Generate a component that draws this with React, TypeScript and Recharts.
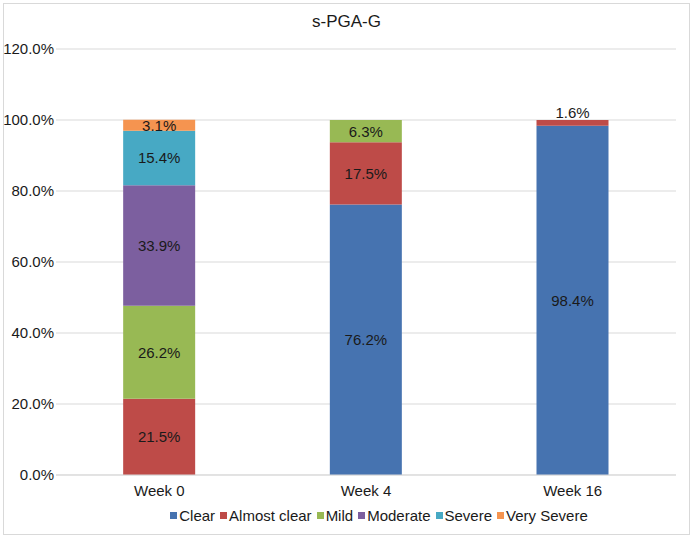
import React from 'react';
import { BarChart, Bar, XAxis, YAxis, CartesianGrid, Legend, LabelList } from 'recharts';

const weeks = ['Week 0', 'Week 4', 'Week 16'];
const clear = [0, 76.2, 98.4];
const almostClear = [21.5, 17.5, 1.6];
const mild = [26.2, 6.3, 0];
const moderate = [33.9, 0, 0];
const severe = [15.4, 0, 0];
const verySevere = [3.1, 0, 0];
const yTicks = [0, 20, 40, 60, 80, 100, 120];

const SERIES = [
  { key: 'clear', name: 'Clear', color: '#4673b0', values: clear },
  { key: 'almostClear', name: 'Almost clear', color: '#be4b48', values: almostClear },
  { key: 'mild', name: 'Mild', color: '#98b954', values: mild },
  { key: 'moderate', name: 'Moderate', color: '#7c5f9f', values: moderate },
  { key: 'severe', name: 'Severe', color: '#47a9c4', values: severe },
  { key: 'verySevere', name: 'Very Severe', color: '#f59450', values: verySevere },
];

const data = weeks.map((week, i) => {
  const row: any = { week };
  SERIES.forEach((s) => {
    row[s.key] = s.values[i];
  });
  return row;
});

const FONT = '"Liberation Sans", Arial, Helvetica, sans-serif';
const TEXT = '#1a1a1a';

const renderLabel = (props: any) => {
  const { x, y, width, height, value } = props;
  if (!value) return null;
  const cx = x + width / 2;
  // tiny segments get their label above the bar
  const cy = value < 2 ? y - 8 : y + height / 2;
  return (
    <text x={cx} y={cy} textAnchor="middle" dominantBaseline="central" fontSize={15} fill={TEXT} fontFamily={FONT}>
      {value.toFixed(1)}%
    </text>
  );
};

const renderLegend = () => (
  <div style={{ display: 'flex', justifyContent: 'center', alignItems: 'center', height: 20, fontFamily: FONT, fontSize: 15, color: TEXT, paddingLeft: 82 }}>
    {SERIES.map((s) => (
      <span key={s.key} style={{ display: 'flex', alignItems: 'center', marginRight: 5 }}>
        <span style={{ display: 'inline-block', width: 7, height: 7, background: s.color, marginRight: 2 }} />
        {s.name}
      </span>
    ))}
  </div>
);

export default function App() {
  return (
    <div style={{ position: 'absolute', left: 0, top: 0, width: 693, height: 537, background: '#fff' }}>
      <div style={{ position: 'absolute', left: 3, top: 3, width: 687, height: 532, border: '1px solid #d9d9d9', boxSizing: 'border-box' }} />
      <div style={{ position: 'absolute', left: 0, top: 12, width: 693, lineHeight: '20px', textAlign: 'center', fontFamily: FONT, fontSize: 17, color: TEXT }}>
        s-PGA-G
      </div>
      <BarChart width={693} height={537} data={data} margin={{ top: 49, right: 17, bottom: 12, left: 5 }} barCategoryGap="32.5%">
        <CartesianGrid vertical={false} stroke="#d9d9d9" />
        <XAxis
          dataKey="week"
          axisLine={{ stroke: '#d9d9d9' }}
          tickLine={false}
          tickMargin={4}
          height={30}
          tick={{ fontSize: 15, fill: TEXT, fontFamily: FONT }}
        />
        <YAxis
          domain={[0, 120]}
          ticks={yTicks}
          axisLine={false}
          tickLine={false}
          width={51}
          tickSize={0}
          tickMargin={2}
          tickFormatter={(v: number) => `${v.toFixed(1)}%`}
          tick={{ fontSize: 15, fill: TEXT, fontFamily: FONT }}
        />
        <Legend verticalAlign="bottom" height={20} content={renderLegend} />
        {SERIES.map((s) => (
          <Bar key={s.key} dataKey={s.key} name={s.name} stackId="a" fill={s.color} isAnimationActive={false}>
            <LabelList dataKey={s.key} content={renderLabel} />
          </Bar>
        ))}
      </BarChart>
    </div>
  );
}
